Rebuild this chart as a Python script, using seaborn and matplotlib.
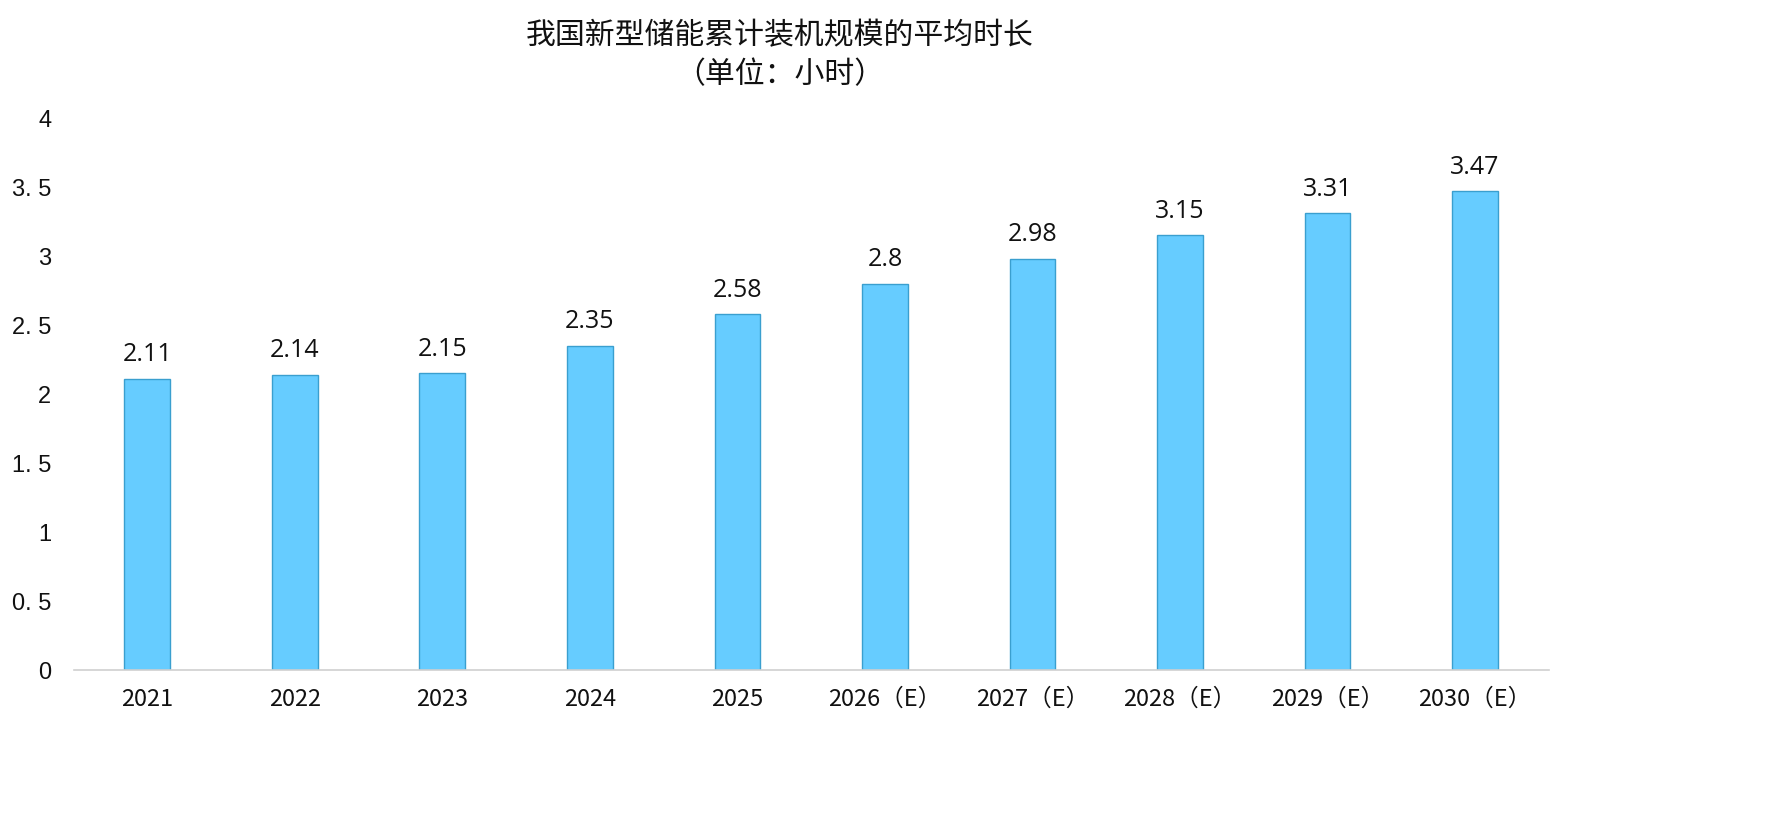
import matplotlib
matplotlib.use("Agg")
import matplotlib.pyplot as plt
import seaborn as sns
import pandas as pd

years = ["2021", "2022", "2023", "2024", "2025",
         "2026（E）", "2027（E）", "2028（E）", "2029（E）", "2030（E）"]
hours = [2.11, 2.14, 2.15, 2.35, 2.58, 2.8, 2.98, 3.15, 3.31, 3.47]
value_labels = ["2.11", "2.14", "2.15", "2.35", "2.58", "2.8", "2.98", "3.15", "3.31", "3.47"]
ytick_values = [0, 0.5, 1, 1.5, 2, 2.5, 3, 3.5, 4]
ytick_labels = ["0", "0. 5", "1", "1. 5", "2", "2. 5", "3", "3. 5", "4"]

sns.set_theme(style="white")
plt.rcParams['font.family'] = ['Noto Sans CJK SC', 'DejaVu Sans']

df = pd.DataFrame({"year": years, "hours": hours})

fig = plt.figure(figsize=(17.72, 8.29), dpi=100)
ax = fig.add_axes([0.0415, 0.1906, 0.8325, 0.6659])

sns.barplot(data=df, x="year", y="hours", ax=ax, color="#66CCFF",
            width=0.31, edgecolor="#3A9FCF", linewidth=1.0, saturation=1)

for i, (v, lab) in enumerate(zip(hours, value_labels)):
    ax.text(i, v + 0.09, lab, ha="center", va="bottom", fontsize=18,
            family=["Open Sans", "DejaVu Sans"], color="#111111")

ax.set_xlim(-0.5, 9.5)
ax.set_ylim(0, 4)
ax.set_yticks(ytick_values)
ax.set_yticklabels(ytick_labels, fontsize=17, family=["Liberation Sans", "DejaVu Sans"])
ax.set_xticks(range(len(years)))
ax.set_xticklabels(years, fontsize=17)
ax.tick_params(axis="y", length=0, pad=16)
ax.tick_params(axis="x", length=0, pad=12)
for lab in ax.get_yticklabels():
    lab.set_color("#111111")
for lab in ax.get_xticklabels():
    lab.set_color("#111111")
ax.set_xlabel("")
ax.set_ylabel("")
for s in ["top", "right", "left"]:
    ax.spines[s].set_visible(False)
ax.spines["bottom"].set_color("#D0D0D0")
ax.spines["bottom"].set_linewidth(1.2)

fig.text(0.44, 0.957, "我国新型储能累计装机规模的平均时长", ha="center", va="center", fontsize=21.5, color="#111111")
fig.text(0.44, 0.91, "（单位：小时）", ha="center", va="center", fontsize=21.5, color="#111111")

fig.savefig("out.png", dpi=100, facecolor="white")
